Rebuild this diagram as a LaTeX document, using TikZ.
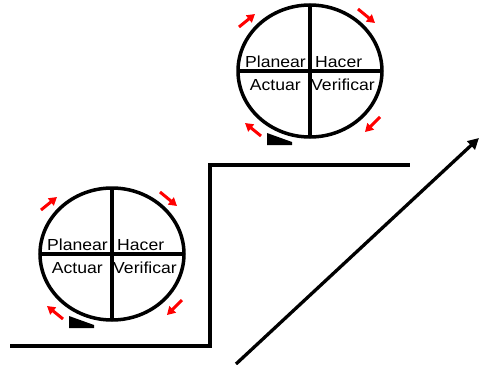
\documentclass[tikz,border=0pt]{standalone}
\usepackage{fontspec}
\setmainfont{Liberation Sans}
\usetikzlibrary{arrows.meta}
\tikzset{
	rueda/.style={line width=3.5pt},
	giro/.style={red,line width=3pt,-{Triangle[length=8pt,width=9pt]}},
	fase/.style={inner sep=0pt,font=\fontsize{16}{18}\selectfont,xscale=1.1},
	suelo/.style={line width=3.3pt}
}
\begin{document}
\begin{tikzpicture}[x=1pt,y=-1pt]
		\useasboundingbox (0,0) rectangle (479,364);
		
		% escalon y pendiente
		\draw[suelo] (10,346) -- (210,346) -- (210,165) -- (410,165);
		\draw[suelo,-{Triangle[length=11pt,width=11pt]}] (236,364) -- (479,138);
		
		\foreach \c/\x/\y in {b/112/254, t/310/71}{
			\begin{scope}[shift={(\x,\y)}]
				\draw[rueda] (0,0) ellipse [x radius=72, y radius=66];
				\draw[rueda] (-72,0) -- (72,0);
				\draw[rueda] (0,-66) -- (0,66);
				
				\fill (-43,62) -- (-43,74) -- (-18,74) -- (-18,71) -- cycle;
				
				\draw[giro] (-71,-44) -- (-55,-57);
				\draw[giro] (48,-62) -- (65,-48);
				\draw[giro] (70,46) -- (55,61);
				\draw[giro] (-49,65) -- (-65,52);
				
				\node[fase,anchor=base east] (\c pl) at (-4,-4) {Planear};
				\node[fase,anchor=base west] (\c ha) at (5,-4) {Hacer};
				\node[fase,anchor=base east] (\c ac) at (-9,19) {Actuar};
				\node[fase,anchor=base west] (\c ve) at (1,19) {Verificar};
			\end{scope}
		}
	\end{tikzpicture}
\end{document}
